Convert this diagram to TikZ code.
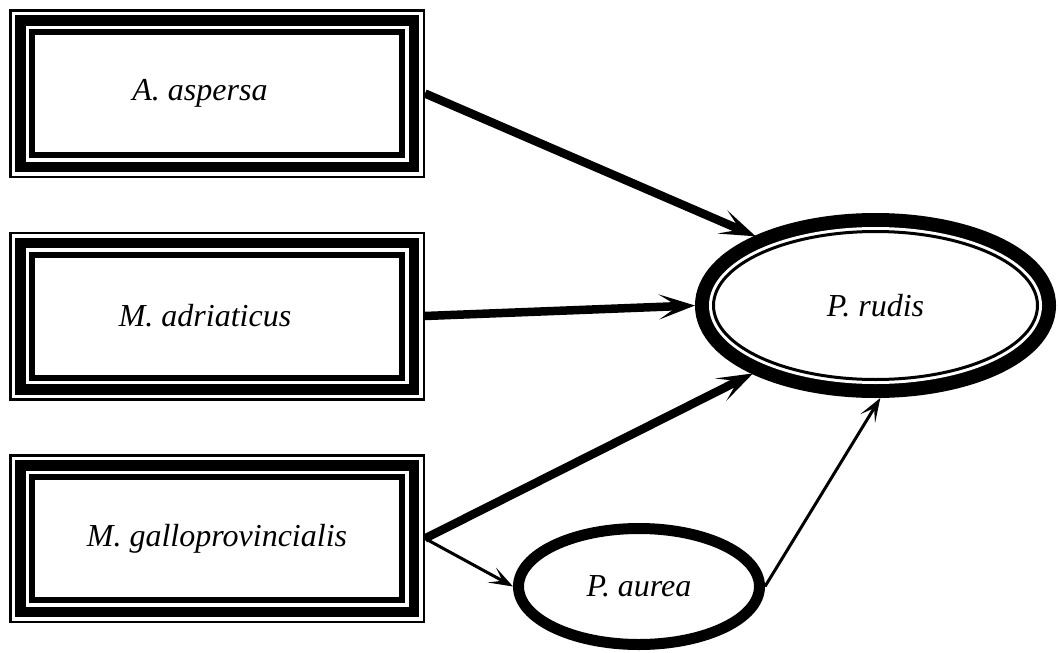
\documentclass[tikz,border=0pt]{standalone}
\usepackage{fontspec}
\setmainfont{Liberation Serif}
\usetikzlibrary{shapes.geometric, arrows.meta}
\tikzstyle{species} = [rectangle, minimum width=370pt, minimum height=123pt, outer sep=23pt, text centered, font=\fontsize{32}{38}\selectfont\itshape, preaction={draw=black, line width=46pt}, preaction={draw=white, line width=41pt}, preaction={draw=black, line width=34pt}, preaction={draw=white, line width=13pt}, fill=white, draw=black, line width=6pt]
\tikzstyle{target} = [ellipse, minimum width=324pt, minimum height=148pt, outer sep=18.5pt, text centered, font=\fontsize{32}{38}\selectfont\itshape, preaction={draw=black, line width=37pt}, preaction={draw=white, line width=9pt}, fill=white, draw=black, line width=3pt]
\tikzstyle{mediator} = [ellipse, minimum width=241pt, minimum height=116pt, outer sep=5.5pt, text centered, font=\fontsize{32}{38}\selectfont\itshape, fill=white, draw=black, line width=11pt]
\tikzstyle{thickarrow} = [line width=8.5pt, -{Stealth[length=36pt, width=25pt, inset=19pt]}]
\tikzstyle{thinarrow} = [line width=3pt, -{Stealth[length=24pt, width=17pt, inset=12pt]}]

\begin{document}
\begin{tikzpicture}[x=1pt, y=-1pt, node distance=222.5pt]
\useasboundingbox (0,0) rectangle (1058,653);

\node (aspersa) [species] at (217,93.5) {A. aspersa\hspace*{34pt}};
\node (adriaticus) [species, below of=aspersa] {M. adriaticus\hspace*{24pt}};
\node (gallo) [species, below of=adriaticus] {M. galloprovincialis};
\node (rudis) [target, right of=adriaticus, xshift=436pt, yshift=10.5pt] {P. rudis};
\node (aurea) [mediator, below of=rudis, xshift=-236.5pt, yshift=-58.5pt] {P. aurea};

\draw [thickarrow] (aspersa.east) -- (rudis.150);
\draw [thickarrow] (adriaticus.east) -- (rudis.west);
\draw [thickarrow] (gallo.east) -- (rudis.209);
\draw [thinarrow] (gallo.east) -- (aurea.west);
\draw [thinarrow] (aurea.east) -- (rudis.-87);

\end{tikzpicture}
\end{document}
